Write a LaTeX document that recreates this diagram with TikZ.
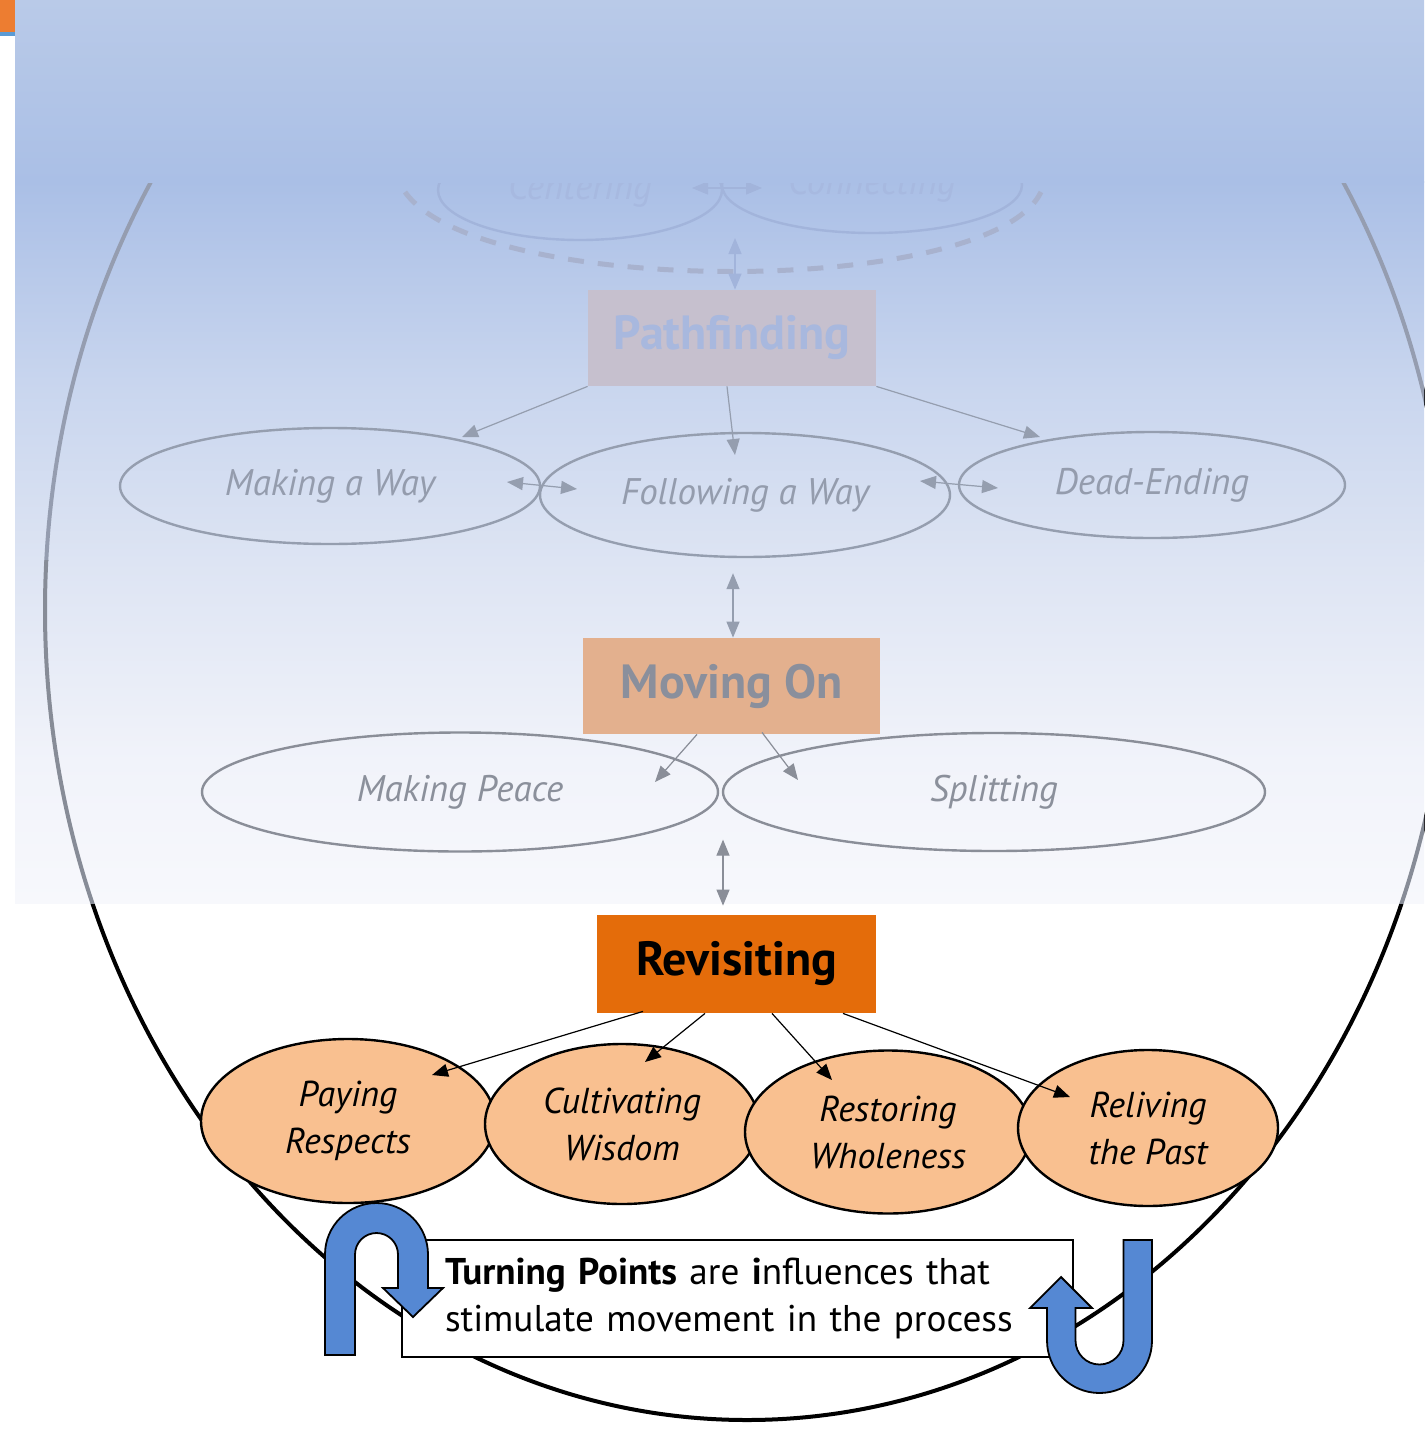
\documentclass[tikz,border=0pt]{standalone}
\usepackage{fontspec}
\setmainfont{PT Sans}
\usetikzlibrary{shapes.geometric,arrows.meta,calc}
\definecolor{ovA}{HTML}{B9CAE8}
\definecolor{ovB}{HTML}{AABFE6}
\definecolor{ovC}{HTML}{C8D5EE}
\definecolor{ovD}{HTML}{DDE4F3}
\definecolor{ovE}{HTML}{F1F3FA}
\definecolor{ovF}{HTML}{F7F8FC}
\definecolor{ringfadeA}{HTML}{959DB0}
\definecolor{ringfadeB}{HTML}{878C97}
\definecolor{fadeline}{HTML}{959EAF}
\definecolor{fadetext}{HTML}{949CAD}
\definecolor{lowline}{HTML}{8A8E98}
\definecolor{lowtext}{HTML}{8B909B}
\definecolor{pffill}{HTML}{C6C0CE}
\definecolor{pftext}{HTML}{A8B8DE}
\definecolor{mofill}{HTML}{E3B08E}
\definecolor{motext}{HTML}{8A8F9C}
\definecolor{ghost}{HTML}{A2B4DB}
\definecolor{ghosttext}{HTML}{A7B9E0}
\definecolor{dashc}{HTML}{A8B2CE}
\definecolor{revfill}{HTML}{E46C0A}
\definecolor{peach}{HTML}{F9C090}
\definecolor{ublue}{HTML}{5588D3}
\definecolor{tagorange}{HTML}{ED7D31}
\definecolor{tagblue}{HTML}{5B9BD5}
\begin{document}
\begin{tikzpicture}[x=0.5pt,y=-0.5pt,
  >={Triangle[length=8pt,width=6.5pt]},
  fadeell/.style={ellipse, draw=fadeline, line width=1.2pt, inner sep=0pt,
    text=fadetext, font=\itshape\fontsize{18.5pt}{22pt}\selectfont},
  lowell/.style={ellipse, draw=lowline, line width=1.2pt, inner sep=0pt,
    text=lowtext, font=\itshape\fontsize{18.5pt}{22pt}\selectfont},
  ghostell/.style={ellipse, draw=ghost, line width=1.2pt, inner sep=0pt,
    text=ghosttext, font=\itshape\fontsize{18.5pt}{22pt}\selectfont},
  botell/.style={ellipse, draw=black, fill=peach, line width=1.2pt, inner sep=0pt,
    align=center, font=\itshape\fontsize{18pt}{23.5pt}\selectfont},
  stagebox/.style={rectangle, inner sep=0pt, font=\bfseries\fontsize{24pt}{28pt}\selectfont},
  farr/.style={->, draw=fadeline, fill=fadeline, line width=0.6pt},
  fdarr/.style={<->, draw=fadeline, fill=fadeline, line width=0.6pt},
  larr/.style={->, draw=lowline, fill=lowline, line width=0.6pt},
  ldarr/.style={<->, draw=lowline, fill=lowline, line width=0.6pt},
  gdarr/.style={<->, draw=ghost, fill=ghost, line width=0.6pt},
  barr/.style={->, draw=black, line width=0.6pt},
  uturn/.style={fill=ublue, draw=black, line width=0.9pt, line join=miter}
]
\useasboundingbox (0,0) rectangle (1424,1440);
\fill[white] (0,0) rectangle (1424,1440);

% large outer ellipse
\draw[line width=2pt] (747,610) ellipse [x radius=351pt, y radius=405pt];

% fading overlay
\shade[top color=ovB, bottom color=ovC] (15,181) rectangle (1424,381);
\shade[top color=ovC, bottom color=ovD] (15,380) rectangle (1424,561);
\shade[top color=ovD, bottom color=ovE] (15,560) rectangle (1424,761);
\shade[top color=ovE, bottom color=ovF] (15,760) rectangle (1424,903);
\begin{scope}
  \clip (15,182) rectangle (1424,560);
  \draw[line width=2pt, ringfadeA] (747,610) ellipse [x radius=351pt, y radius=405pt];
\end{scope}
\begin{scope}
  \clip (15,560) rectangle (1424,903);
  \draw[line width=2pt, ringfadeB] (747,610) ellipse [x radius=351pt, y radius=405pt];
\end{scope}

% ghost top stage
\node[ghostell, minimum width=142pt, minimum height=50pt] (ce) at (580,190) {Centering};
\node[ghostell, minimum width=150pt, minimum height=48pt] (co) at (872,185) {Connecting};
\draw[gdarr] ($(ce)+(112,-2)$) -- ($(co)+(-110,3)$);
\draw[dashc, line width=2.5pt, dash pattern=on 8pt off 7pt]
  (405,192) .. controls (480,298) and (990,298) .. (1041,192);
\coordinate (ccbot) at (735,238);

% Pathfinding stage
\node[stagebox, fill=pffill, text=pftext, minimum width=144pt, minimum height=48pt] (pf) at (732,338) {Pathfinding};
\draw[gdarr] (ccbot) -- ($(pf.north)+(3,0)$);
\node[fadeell, minimum width=210pt, minimum height=58pt] (mw) at (330,486) {Making a Way};
\node[fadeell, minimum width=205pt, minimum height=62pt] (fw) at (745,495) {Following a Way};
\node[fadeell, minimum width=193pt, minimum height=53pt] (de) at (1152,485) {Dead-Ending};
\draw[farr] (pf.south west) -- ($(mw)+(132,-49)$);
\draw[farr] ($(pf.south)+(-5,0)$) -- ($(fw)+(-10,-40)$);
\draw[farr] (pf.south east) -- ($(de)+(-112,-48)$);
\draw[fdarr] ($(mw)+(177,-4)$) -- ($(fw)+(-168,-6)$);
\draw[fdarr] ($(fw)+(175,-14)$) -- ($(de)+(-154,3)$);

% Moving On stage
\node[stagebox, fill=mofill, text=motext, minimum width=148.5pt, minimum height=48pt] (mo) at (731.5,686) {Moving On};
\draw[fdarr] ($(fw.south)+(-12,15)$) -- ($(mo.north)+(1.5,0)$);
\node[lowell, minimum width=258pt, minimum height=59.5pt] (mp) at (460,792) {Making Peace};
\node[lowell, minimum width=271pt, minimum height=59pt] (sp) at (994,792) {Splitting};
\draw[larr] ($(mo.south)+(-34.5,0)$) -- ($(mp)+(195,-10)$);
\draw[larr] ($(mo.south)+(30.5,-2)$) -- ($(sp)+(-196,-12)$);

% top band (hides the upper part)
\shade[top color=ovA, bottom color=ovB] (15,0) rectangle (1424,182);
\fill[tagorange] (0,0) rectangle (15,32);
\fill[tagblue] (0,32) rectangle (15,36);

% Revisiting stage
\node[stagebox, fill=revfill, text=black, minimum width=139.5pt, minimum height=49pt] (rev) at (736.5,964) {Revisiting};
\draw[ldarr] ($(rev.north)+(-13.5,-75)$) -- ($(rev.north)+(-13.5,-9)$);

\node[botell, minimum width=147pt, minimum height=82pt] (pay) at (348,1121) {Paying\\Respects};
\node[botell, minimum width=137pt, minimum height=80pt] (cul) at (622,1124) {Cultivating\\Wisdom};
\node[botell, minimum width=143pt, minimum height=81.5pt] (res) at (888,1132) {Restoring\\Wholeness};
\node[botell, minimum width=130pt, minimum height=78pt] (rel) at (1148,1128) {Reliving\\the Past};

\draw[barr] ($(rev.south)+(-93.5,-2)$) -- ($(pay)+(84,-46)$);
\draw[barr] ($(rev.south)+(-31.5,0)$) -- ($(cul)+(23,-62)$);
\draw[barr] ($(rev.south)+(35.5,0)$) -- ($(res)+(-56,-52)$);
\draw[barr] ($(rev.south)+(106.5,0)$) -- ($(rel)+(-78,-31)$);

% turning points text box
\node[rectangle, draw=black, fill=white, line width=0.6pt, minimum width=335.5pt,
  minimum height=58.5pt, inner xsep=21.5pt, inner ysep=0pt, text width=292.5pt, align=left,
  font=\fontsize{18.6pt}{23.5pt}\selectfont] (tb) at (737.5,1298.5)
  {\textbf{Turning Points} are \textbf{i}nfluences that\\stimulate movement in the process};

% U-turn arrows
\path[uturn] (325,1355) -- (325,1254.5)
  .. controls (325,1226.06) and (348.06,1203) .. (376.5,1203)
  .. controls (404.94,1203) and (428,1226.06) .. (428,1254.5)
  -- (428,1288) -- (443,1288) -- (413,1317) -- (383,1288) -- (398,1288) -- (398,1254.5)
  .. controls (398,1242.63) and (388.37,1233) .. (376.5,1233)
  .. controls (364.63,1233) and (355,1242.63) .. (355,1254.5)
  -- (355,1355) -- cycle;
\path[uturn] (1152,1240) -- (1152,1340.5)
  .. controls (1152,1369.5) and (1128.5,1393) .. (1099.5,1393)
  .. controls (1070.5,1393) and (1047,1369.5) .. (1047,1340.5)
  -- (1047,1308) -- (1030,1308) -- (1061,1277) -- (1092,1308) -- (1075.5,1308) -- (1075.5,1340.5)
  .. controls (1075.5,1353.76) and (1086.24,1364.5) .. (1099.5,1364.5)
  .. controls (1112.76,1364.5) and (1123.5,1353.76) .. (1123.5,1340.5)
  -- (1123.5,1240) -- cycle;
\end{tikzpicture}
\end{document}
